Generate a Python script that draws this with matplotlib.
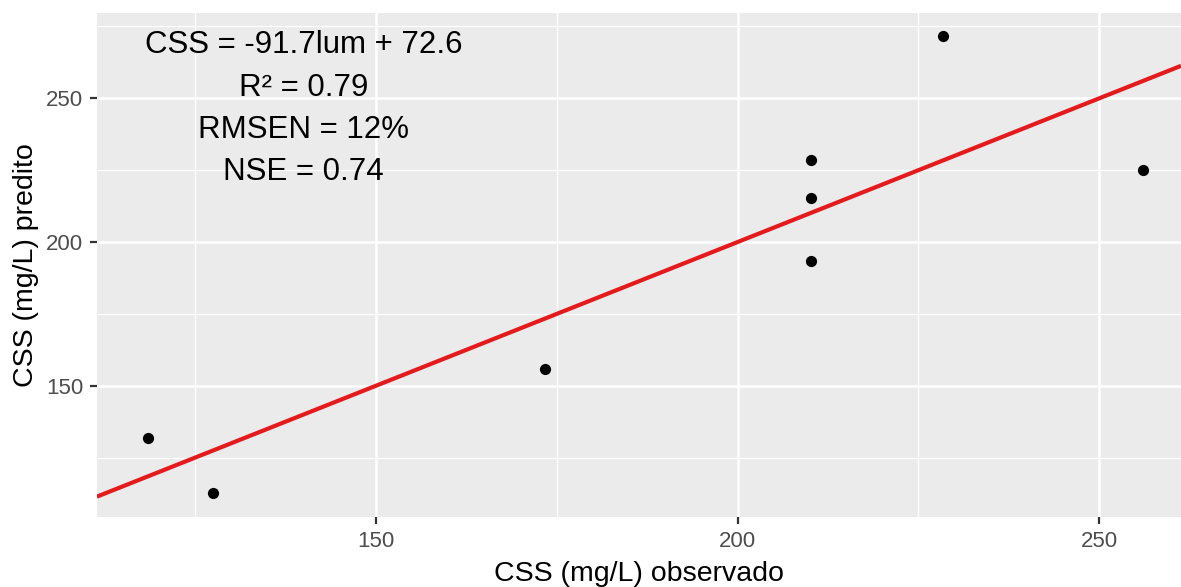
import matplotlib
matplotlib.use('Agg')
import matplotlib.pyplot as plt

plt.rcParams['font.family'] = ['Liberation Sans', 'DejaVu Sans']

observed = [118.4, 127.5, 173.4, 210.1, 210.1, 210.1, 228.4, 256.0]
predicted = [131.9, 112.6, 155.8, 228.7, 215.3, 193.4, 271.7, 224.9]
stats_lines = ['CSS = -91.7lum + 72.6', 'R² = 0.79', 'RMSEN = 12%', 'NSE = 0.74']
xlim = (111.4, 261.3)
ylim = (104.4, 279.8)

fig = plt.figure(figsize=(11.81, 5.87), dpi=100)
ax = fig.add_axes([0.0821, 0.1197, 0.9179, 0.8587])
ax.set_facecolor('#EBEBEB')

ax.set_xticks([150, 200, 250])
ax.set_yticks([150, 200, 250])
ax.set_xticks([125, 175, 225], minor=True)
ax.set_yticks([125, 175, 225, 275], minor=True)
ax.grid(which='major', color='white', linewidth=1.8)
ax.grid(which='minor', color='white', linewidth=0.9)
ax.set_axisbelow(True)
for s in ax.spines.values():
    s.set_visible(False)

ax.tick_params(which='major', length=5, width=1.6, color='#333333',
               labelsize=16, labelcolor='#4D4D4D', pad=5)
ax.tick_params(which='minor', length=0)

# 1:1 line
ax.plot(xlim, xlim, color='#E41A1C', linewidth=3, solid_capstyle='butt', zorder=2)
ax.scatter(observed, predicted, s=65, color='black', zorder=3, linewidths=0)

for i, line in enumerate(stats_lines):
    ax.text(0.1905, 0.935 - i * 0.0839, line, transform=ax.transAxes,
            ha='center', va='center', fontsize=22.5, color='black')

ax.set_xlim(*xlim)
ax.set_ylim(*ylim)
ax.set_xlabel('CSS (mg/L) observado', fontsize=20.5, labelpad=7)
ax.set_ylabel('CSS (mg/L) predito', fontsize=20.5, labelpad=5)

fig.savefig('out.png', dpi=100)
